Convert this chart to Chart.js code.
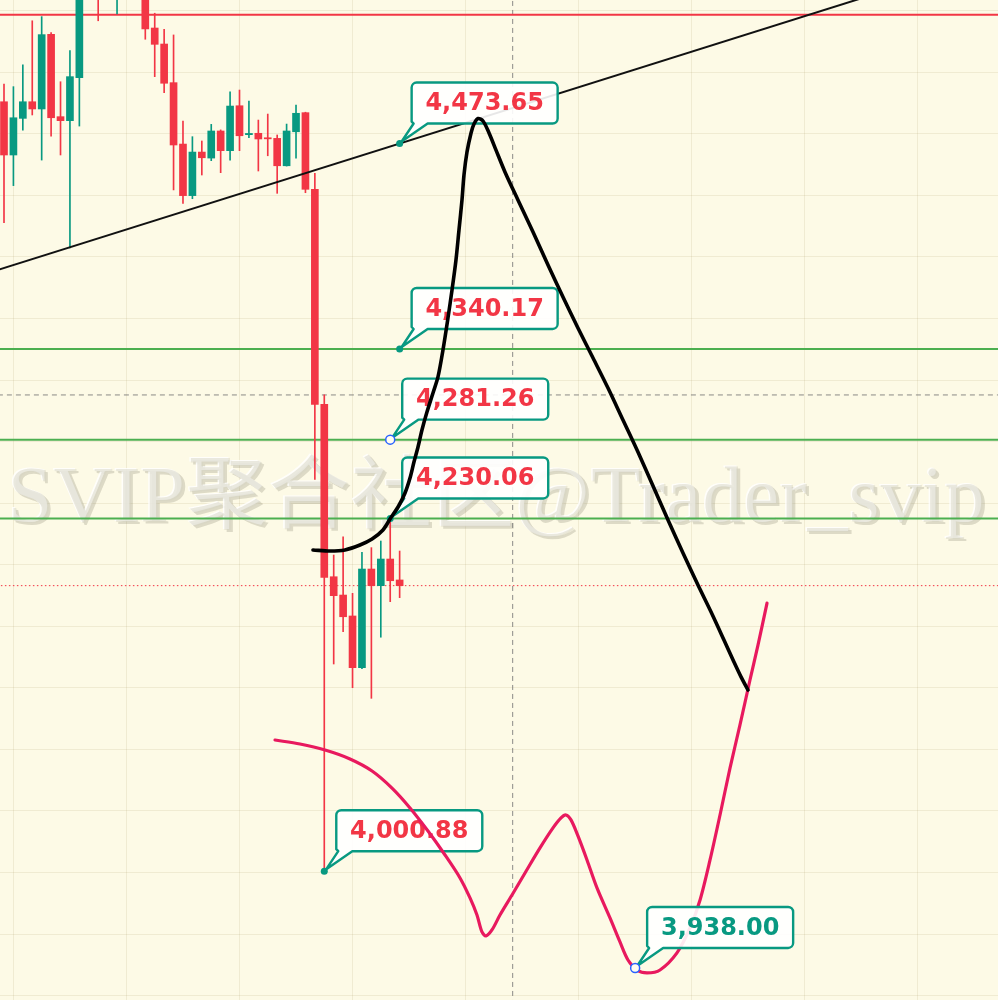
<!DOCTYPE html>
<html>
<head>
<meta charset="utf-8">
<script src="https://cdn.jsdelivr.net/npm/chart.js@4.4.1/dist/chart.umd.min.js"></script>
<style>
html,body{margin:0;padding:0;background:#fdfae6;overflow:hidden}
canvas{display:block}
</style>
</head>
<body>
<canvas id="c" width="998" height="1000"></canvas>
<script>
// ---------- candle data (bar index, OHLC) ----------
const candleIndex = [0,1,2,3,4,5,6,7,8,9,10,11,12,13,14,15,16,17,18,19,20,21,22,23,24,25,26,27,28,29,30,31,32,33,34,35,36,37,38,39,40,41,42];
const opens  = [4500.8,4466.2,4490.0,4500.8,4496.1,4544.6,4491.1,4488.5,4516.4,4602.0,4596.0,4578.0,4585.0,4605.0,4592.0,4598.0,4548.7,4538.3,4513.2,4473.3,4439.8,4468.1,4464.2,4481.8,4469.0,4498.2,4479.4,4480.3,4477.4,4477.0,4459.2,4481.3,4493.7,4443.9,4304.2,4192.2,4180.3,4166.7,4133.1,4197.2,4186.4,4203.7,4190.1];
const highs  = [4512.3,4510.6,4524.7,4553.4,4556.1,4545.7,4513.8,4534.0,4598.0,4610.0,4604.0,4606.0,4612.0,4615.0,4608.0,4603.0,4558.3,4547.9,4544.2,4488.3,4478.1,4475.3,4486.1,4482.5,4507.3,4508.4,4501.3,4488.9,4492.8,4479.2,4486.3,4498.7,4494.0,4454.3,4310.3,4206.3,4218.2,4181.4,4208.1,4211.1,4215.4,4230.06,4208.9];
const lows   = [4422.2,4446.3,4482.4,4492.2,4462.9,4478.5,4466.2,4405.8,4485.0,4580.0,4553.4,4572.0,4557.8,4580.0,4582.0,4541.4,4517.1,4506.7,4443.5,4434.8,4437.8,4453.2,4462.5,4454.7,4462.9,4469.0,4477.4,4455.8,4465.7,4441.3,4459.0,4464.1,4441.7,4255.5,4000.88,4135.5,4156.5,4120.1,4132.5,4113.2,4152.9,4176.0,4178.6];
const closes = [4466.2,4490.4,4500.8,4496.1,4544.4,4490.4,4488.5,4517.1,4585.0,4590.0,4578.0,4595.0,4605.0,4592.0,4600.0,4548.1,4538.1,4512.8,4472.7,4439.8,4468.1,4464.4,4481.8,4469.0,4498.0,4478.7,4480.2,4476.6,4476.7,4459.2,4481.8,4493.3,4443.9,4304.2,4191.8,4179.9,4166.2,4133.1,4197.2,4186.4,4203.7,4189.6,4186.4];

// ---------- horizontal levels ----------
const redLevel = 4557.3;
const greenLevels = [4340.17, 4281.26, 4230.06];
const crossPrice = 4310.3;
const crossIndex = 54;

// ---------- trend line (two end points) ----------
const trendX = [-3, 100];
const trendY = [4387.0, 4585.3];

// ---------- price labels ----------
const labelIndex = [42, 42, 41, 41, 34, 67];
const labelPrice = [4473.65, 4340.17, 4281.26, 4230.06, 4000.88, 3938.00];

// ---------- hand-drawn black path ----------
const blackX = [32.80,34.61,36.20,37.79,39.07,40.23,40.98,41.83,42.57,43.10,43.52,43.95,44.37,44.90,45.54,46.07,46.60,47.13,47.56,47.98,48.30,48.62,48.83,49.15,49.58,49.89,50.32,50.85,51.49,52.23,53.18,54.56,56.16,57.75,59.34,60.93,62.53,64.12,65.71,67.30,68.90,70.49,72.08,73.67,75.16,76.43,77.49,78.24,78.98];
const blackY = [4209.6,4208.9,4209.6,4212.8,4216.7,4222.6,4229.7,4237.5,4246.6,4256.3,4266.7,4276.5,4287.5,4299.2,4311.6,4322.0,4339.5,4360.3,4378.5,4398.0,4417.5,4437.0,4453.2,4468.1,4480.5,4486.3,4489.9,4488.3,4480.5,4469.4,4455.2,4437.0,4416.2,4394.7,4373.9,4353.8,4334.3,4314.8,4294.0,4273.2,4251.2,4229.1,4207.6,4186.8,4168.0,4151.1,4136.8,4127.1,4118.6];

// ---------- hand-drawn red path ----------
const redX = [28.77,31.42,34.08,36.73,39.07,41.19,43.10,45.01,46.82,48.41,49.47,50.21,50.74,51.17,51.80,52.65,53.93,55.31,56.90,58.28,59.13,59.66,60.19,60.93,61.89,62.95,64.33,65.39,66.24,67.20,68.26,69.64,71.44,72.82,73.89,74.95,76.01,77.07,78.13,79.19,80.04,81.00];
const redY = [4086.1,4083.5,4079.6,4073.8,4066.0,4054.9,4042.0,4027.0,4011.4,3996.5,3983.5,3972.4,3961.4,3958.8,3962.7,3972.4,3985.4,3999.7,4016.0,4029.0,4035.5,4037.4,4034.2,4023.8,4008.2,3990.0,3970.5,3954.9,3943.2,3936.7,3934.8,3936.7,3947.8,3964.0,3982.2,4008.2,4037.4,4067.9,4095.9,4125.1,4147.8,4175.1];

// ---------- axes ----------
const xMin = -0.4246, xMax = 105.52;
const yMin = 3917.2, yMax = 4566.9;
const xGrid = [1, 13, 25, 37, 49, 61, 73, 85, 97];
const yGrid = [3920,3960,4000,4040,4080,4120,4160,4200,4240,4280,4320,4360,4400,4440,4480,4520,4560];

const watermarkText = 'SVIP聚合社区@Trader_svip';

// ---------- styles ----------
const UP = '#089981', DOWN = '#f23645';
const candleColors = candleIndex.map(i => closes[i] >= opens[i] ? UP : DOWN);
const labelColors = [DOWN, DOWN, DOWN, DOWN, DOWN, UP];
const labelRing = [false, false, true, false, false, true];
const labelOnTop = [false, false, false, false, false, true];

const hLine = (p, color, width, dash, order) => ({
  type: 'line',
  data: [{x: xMin - 5, y: p}, {x: xMax + 5, y: p}],
  borderColor: color, borderWidth: width, borderDash: dash || [],
  pointRadius: 0, fill: false, order: order
});

const datasets = [
  hLine(crossPrice, 'rgba(110,110,110,0.8)', 1, [5, 4], 30),
  {
    type: 'line',
    data: [{x: crossIndex, y: yMin - 50}, {x: crossIndex, y: yMax + 50}],
    borderColor: 'rgba(110,110,110,0.8)', borderWidth: 1, borderDash: [5, 4],
    pointRadius: 0, fill: false, order: 30
  },
  hLine(redLevel, '#f23645', 2, null, 20),
  ...greenLevels.map(p => hLine(p, '#4caf50', 2, null, 20)),
  hLine(closes[closes.length - 1], '#f23645', 1, [1.5, 2.5], 20),
  {
    type: 'bar',
    data: candleIndex.map(i => ({x: i, y: [lows[i], highs[i]]})),
    backgroundColor: candleColors, barThickness: 1, grouped: false,
    borderWidth: 0, order: 12
  },
  {
    type: 'bar',
    data: candleIndex.map(i => ({x: i, y: [opens[i], closes[i]]})),
    backgroundColor: candleColors, barThickness: 7, grouped: false,
    borderWidth: 0, minBarLength: 1, order: 11
  },
  {
    type: 'line',
    data: trendX.map((x, k) => ({x: x, y: trendY[k]})),
    borderColor: '#111', borderWidth: 2, pointRadius: 0, fill: false, order: 5
  },
  {
    id: 'redCurve', type: 'line',
    data: redX.map((x, k) => ({x: x, y: redY[k]})),
    borderColor: '#e8195e', borderWidth: 3.2, pointRadius: 0, fill: false,
    tension: 0.3, borderCapStyle: 'round', borderJoinStyle: 'round', order: 1
  },
  {
    id: 'blackCurve', type: 'line',
    data: blackX.map((x, k) => ({x: x, y: blackY[k]})),
    borderColor: '#000', borderWidth: 3.6, pointRadius: 0, fill: false,
    tension: 0.3, borderCapStyle: 'round', borderJoinStyle: 'round', order: 0
  }
];

function drawBubble(ctx, ax, ay, text, color, ring) {
  ctx.save();
  ctx.font = 'bold 24px "DejaVu Sans", sans-serif';
  const tw = ctx.measureText(text).width;
  const w = Math.round(tw + 28), h = 41, r = 5;
  const L = ax + 12, B = ay - 20, T = B - h, R = L + w;
  const tipX = ax + 2, tipY = ay - 2;
  ctx.beginPath();
  ctx.moveTo(L + r, T);
  ctx.lineTo(R - r, T); ctx.arcTo(R, T, R, T + r, r);
  ctx.lineTo(R, B - r); ctx.arcTo(R, B, R - r, B, r);
  ctx.lineTo(L + 16, B);
  ctx.lineTo(tipX, tipY);
  ctx.lineTo(L + 2, B);
  ctx.lineTo(L, B - 2);
  ctx.lineTo(L, T + r); ctx.arcTo(L, T, L + r, T, r);
  ctx.closePath();
  ctx.fillStyle = 'rgba(255,255,255,0.9)';
  ctx.fill();
  ctx.lineWidth = 2.4;
  ctx.strokeStyle = '#089981';
  ctx.lineJoin = 'round';
  ctx.stroke();
  ctx.fillStyle = color;
  ctx.textAlign = 'center';
  ctx.textBaseline = 'middle';
  ctx.fillText(text, L + w / 2, T + h / 2 + 1);
  ctx.beginPath();
  if (ring) {
    ctx.arc(ax, ay, 4.5, 0, Math.PI * 2);
    ctx.fillStyle = '#fffdf0'; ctx.fill();
    ctx.lineWidth = 1.5; ctx.strokeStyle = '#2962ff'; ctx.stroke();
  } else {
    ctx.arc(ax, ay, 3.5, 0, Math.PI * 2);
    ctx.fillStyle = '#089981'; ctx.fill();
  }
  ctx.restore();
}

function drawLabels(chart, onTop) {
  const xs = chart.scales.x, ys = chart.scales.y;
  labelPrice.forEach((p, k) => {
    if (labelOnTop[k] !== onTop) return;
    const text = p.toLocaleString('en-US', {minimumFractionDigits: 2, maximumFractionDigits: 2});
    drawBubble(chart.ctx, xs.getPixelForValue(labelIndex[k]), ys.getPixelForValue(p), text, labelColors[k], labelRing[k]);
  });
}

const overlay = {
  id: 'overlay',
  beforeDraw(chart) {
    const ctx = chart.ctx;
    ctx.save();
    ctx.fillStyle = '#fdfae6';
    ctx.fillRect(0, 0, chart.width, chart.height);
    ctx.restore();
  },
  beforeDatasetsDraw(chart) {
    const ctx = chart.ctx;
    ctx.save();
    ctx.font = '80px "Liberation Serif", "Noto Sans CJK SC", serif';
    const w = ctx.measureText(watermarkText).width;
    ctx.translate(8, 522);
    ctx.scale(978 / w, 1);
    ctx.textBaseline = 'alphabetic';
    ctx.fillStyle = 'rgba(120,115,95,0.24)';
    ctx.fillText(watermarkText, 2, 2);
    ctx.fillStyle = 'rgba(255,255,255,0.8)';
    ctx.fillText(watermarkText, -1.5, -1.5);
    ctx.fillStyle = 'rgba(214,211,196,0.5)';
    ctx.fillText(watermarkText, 0, 0);
    ctx.restore();
  },
  beforeDatasetDraw(chart, args) {
    if (chart.data.datasets[args.index].id === 'redCurve') drawLabels(chart, false);
  },
  afterDatasetsDraw(chart) {
    drawLabels(chart, true);
  }
};

new Chart(document.getElementById('c'), {
  type: 'bar',
  data: {datasets: datasets},
  plugins: [overlay],
  options: {
    responsive: false,
    devicePixelRatio: 1,
    animation: false,
    layout: {padding: 0},
    plugins: {legend: {display: false}, tooltip: {enabled: false}},
    scales: {
      x: {
        type: 'linear', min: xMin, max: xMax, offset: false,
        ticks: {display: false},
        border: {display: false},
        grid: {color: 'rgba(160,150,90,0.14)', drawTicks: false, offset: false, lineWidth: 1},
        afterBuildTicks: s => { s.ticks = xGrid.map(v => ({value: v})); }
      },
      y: {
        type: 'linear', min: yMin, max: yMax, beginAtZero: false,
        ticks: {display: false},
        border: {display: false},
        grid: {color: 'rgba(160,150,90,0.14)', drawTicks: false, lineWidth: 1},
        afterBuildTicks: s => { s.ticks = yGrid.map(v => ({value: v})); }
      }
    }
  }
});
</script>
</body>
</html>
